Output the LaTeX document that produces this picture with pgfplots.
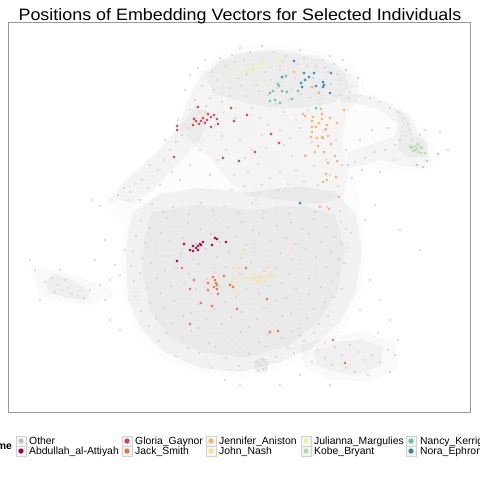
\documentclass[border=0pt]{standalone}
\usepackage{fontspec}
\setmainfont{Liberation Sans}
\usepackage{graphicx}
\usepackage{pgfplots}
\pgfplotsset{compat=1.18}
\definecolor{cOther}{HTML}{BEBEBE}
\definecolor{cAbd}{HTML}{9E0142}
\definecolor{cGlo}{HTML}{D53E4F}
\definecolor{cJac}{HTML}{F46D43}
\definecolor{cJen}{HTML}{FDAE61}
\definecolor{cJoh}{HTML}{FEE08B}
\definecolor{cJul}{HTML}{E6F598}
\definecolor{cKob}{HTML}{ABDDA4}
\definecolor{cNan}{HTML}{66C2A5}
\definecolor{cNor}{HTML}{3288BD}
\pgfplotsset{
  greyplot/.style={only marks, mark=*, mark size=0.8bp, color=black!20, mark options={line width=0.05bp}},
  ptplot/.style={only marks, mark=*, mark size=1.3bp, color=#1, opacity=0.9, mark options={line width=0.1bp}},
  cloud/.style={draw=none, fill=black, fill opacity=#1},
}
\begin{document}
\begin{tikzpicture}
\begin{axis}[
  at={(8bp,-412bp)}, anchor=south west,
  scale only axis, width=462bp, height=390bp,
  xmin=8, xmax=470, ymin=22, ymax=412, y dir=reverse,
  xtick=\empty, ytick=\empty,
  axis line style={draw=black!40, line width=0.8bp},
  clip=true,
]
% density areas of the Other cloud
\addplot[cloud=0.012] coordinates {(105,200)(125,178)(160,148)(180,122)(186,96)(200,70)(220,55)(245,46)(270,44)(300,47)(330,53)(352,64)(364,80)(366,92)(385,98)(405,108)(420,126)(436,142)(440,160)(425,172)(400,170)(370,168)(356,175)(360,210)(366,250)(360,295)(345,330)(318,352)(285,368)(240,378)(198,374)(160,358)(138,336)(124,302)(120,262)(124,225)(112,212)} --cycle;
\addplot[cloud=0.03] coordinates {(178,128)(188,100)(202,74)(220,60)(242,52)(266,49)(292,51)(322,57)(346,68)(358,82)(358,100)(346,114)(342,140)(348,172)(344,196)(320,204)(282,200)(248,196)(228,180)(212,160)(196,146)} --cycle;
\addplot[cloud=0.03] coordinates {(205,75)(222,60)(245,53)(270,51)(295,54)(322,60)(344,72)(350,88)(335,102)(305,108)(270,108)(242,102)(215,94)} --cycle;
\addplot[cloud=0.035] coordinates {(112,198)(126,180)(156,154)(180,126)(196,106)(210,114)(200,140)(176,166)(154,188)(134,204)} --cycle;
\addplot[cloud=0.045] coordinates {(133,212)(160,194)(200,188)(250,192)(300,186)(335,192)(356,214)(362,250)(356,292)(340,322)(312,348)(280,362)(240,372)(200,368)(164,352)(142,330)(128,300)(126,260)(128,232)} --cycle;
\addplot[cloud=0.03] coordinates {(152,212)(200,205)(250,210)(300,205)(335,215)(345,250)(338,290)(320,320)(290,345)(245,358)(200,352)(170,338)(150,310)(142,270)(145,235)} --cycle;
\addplot[cloud=0.03] coordinates {(340,94)(362,94)(384,101)(400,110)(408,118)(412,132)(426,142)(430,158)(418,168)(400,165)(380,160)(360,166)(346,168)(348,152)(372,144)(394,136)(398,124)(380,110)(356,103)(340,102)} --cycle;
\addplot[cloud=0.03] coordinates {(396,110)(410,114)(418,132)(428,142)(428,156)(410,158)(398,150)(400,130)} --cycle;
\addplot[cloud=0.025] coordinates {(30,265)(55,270)(80,278)(105,285)(115,295)(90,305)(60,302)(38,294)} --cycle;
\addplot[cloud=0.04] coordinates {(45,282)(55,274)(72,280)(90,292)(86,300)(66,298)(50,293)} --cycle;
\addplot[cloud=0.025] coordinates {(300,345)(335,335)(365,332)(395,342)(398,368)(370,382)(330,380)(305,368)} --cycle;
\addplot[cloud=0.035] coordinates {(314,352)(335,342)(362,339)(383,348)(380,366)(356,375)(332,372)(316,364)} --cycle;
\addplot[cloud=0.05] coordinates {(254,362)(262,357)(269,362)(267,372)(256,373)} --cycle;
% Other points
\addplot[greyplot] coordinates {
(190,75)(198,68)(205,60)(212,72)(220,58)(226,66)(232,55)(238,78)(244,60)(250,52)(256,85)(262,58)(268,95)(274,52)(280,70)(286,56)(292,90)(298,64)(304,58)(310,98)(316,66)(322,60)(328,72)(334,64)(340,80)(346,70)(352,86)(358,78)(214,90)(222,102)(230,88)(246,96)(252,108)(260,118)(276,104)(284,112)(296,120)(308,110)(320,104)(336,96)(240,48)(262,46)(300,50)(330,56)(185,90)(195,100)(205,112)(215,125)(236,118)(248,128)
(235,62)(247,74)(259,91)(271,80)(283,62)(295,78)(307,66)(319,92)(331,84)(343,60)(217,80)(229,96)(241,86)(253,64)(265,72)(277,88)(289,100)(301,94)(313,78)(325,68)(337,74)(349,98)(202,86)(210,98)(224,112)
(240,140)(252,150)(262,135)(272,160)(284,145)(296,170)(306,155)(318,185)(330,175)(342,165)(248,172)(262,185)(278,190)(290,138)(300,128)(312,142)(324,130)(336,140)(346,150)(256,200)(270,178)(226,150)(234,175)(218,160)(210,175)(200,150)(190,165)(180,180)
(245,158)(258,164)(266,148)(280,172)(292,156)(304,182)(314,166)(326,160)(338,186)(232,190)(222,136)(244,186)(288,184)(268,125)(280,130)
(118,195)(124,188)(130,192)(136,184)(142,180)(148,188)(152,176)(158,170)(164,160)(170,150)(176,142)(182,135)(188,128)(194,118)(200,112)(206,106)(140,200)(128,200)(160,185)(172,172)(112,200)(100,206)(92,200)(150,165)(165,140)(178,120)(190,110)
(152,204)(173,207)(201,203)(224,206)(252,203)(276,208)(301,204)(327,207)
(141,221)(167,218)(188,223)(216,219)(242,222)(263,218)(291,223)(314,219)(341,222)
(136,236)(161,233)(183,238)(211,234)(236,237)(259,233)(286,238)(309,234)(334,237)(351,233)
(133,251)(156,248)(181,253)(206,249)(229,252)(254,248)(281,253)(306,249)(331,252)(347,248)
(131,266)(151,263)(176,268)(199,264)(226,267)(251,263)(276,268)(299,264)(326,267)(344,263)
(134,281)(157,278)(184,283)(207,279)(232,282)(259,278)(282,283)(309,279)(332,282)
(136,296)(161,293)(184,298)(211,294)(236,297)(259,293)(286,298)(309,294)(334,297)
(141,311)(164,308)(191,313)(214,309)(241,312)(264,308)(291,313)(314,309)
(149,326)(172,323)(199,328)(222,324)(249,327)(272,323)(299,328)(319,324)
(159,341)(182,338)(209,343)(232,339)(259,342)(282,338)(304,341)
(176,356)(199,353)(226,358)(249,354)(276,357)(294,353)
(211,368)(239,366)(263,369)
(163,212)(189,214)(213,211)(238,213)(264,211)(289,214)(315,212)(340,211)
(150,228)(176,226)(201,229)(228,227)(253,230)(277,226)(302,229)(326,227)(346,229)
(145,243)(170,241)(196,244)(220,242)(246,245)(270,241)(296,244)(321,242)(342,244)
(142,258)(168,256)(193,259)(217,257)(241,258)(267,256)(292,259)(316,257)(339,259)
(140,273)(165,271)(189,274)(214,272)(240,274)(264,271)(289,274)(316,272)(338,273)
(146,288)(171,286)(196,289)(221,287)(246,289)(270,286)(296,289)(321,287)(342,289)
(150,303)(174,301)(199,304)(225,302)(251,304)(276,301)(299,304)(325,302)
(156,318)(183,316)(206,319)(231,317)(257,319)(282,316)(307,318)(328,316)
(166,333)(191,331)(216,334)(241,332)(268,334)(292,331)(314,333)
(188,348)(215,347)(240,349)(266,347)(288,348)
(35,270)(45,282)(52,278)(58,285)(62,290)(68,288)(72,294)(78,296)(84,298)(55,292)(65,280)(90,290)(100,285)(110,280)(120,275)(40,300)(30,260)(105,300)(115,265)(125,250)(60,270)
(340,95)(350,92)(360,96)(370,98)(380,102)(390,108)(398,112)(404,118)(408,124)(410,130)(406,136)(400,140)(412,140)(395,145)(385,150)(375,152)(365,158)(355,162)(348,165)(420,135)(425,130)(440,132)(448,150)(360,140)(372,130)(388,128)(352,178)(362,170)(380,172)(395,160)
(318,350)(325,343)(335,347)(342,355)(350,345)(358,352)(365,360)(372,355)(380,362)(388,350)(346,368)(332,365)(355,372)(325,358)(312,362)(390,372)(368,375)(300,335)(378,333)(395,355)(398,340)
(256,362)(260,366)(264,360)(258,370)(266,368)
(420,250)(400,230)(380,300)(370,280)(365,220)(375,205)(120,330)(110,320)(105,240)(95,260)(240,385)(280,385)(300,375)(225,380)(360,310)(330,385)(390,320)
};
% selected individuals
\addplot[ptplot=cAbd] coordinates {(184,244)(190,250)(193,251)(193,246)(198,250)(198,246)(200,244)(203,242)(212,245)(215,238)(217,239)(226,242)(177,261)(196,248)(201,245)};
\addplot[ptplot=cGlo] coordinates {(198,107)(194,119)(193,125)(203,118)(208,114)(211,117)(214,115)(217,119)(218,124)(211,127)(205,123)(199,124)(196,121)(201,121)(207,120)(231,108)(234,121)(247,115)(177,126)(177,130)(174,157)(223,158)(239,161)(255,152)(271,134)(279,143)};
\addplot[ptplot=cJac] coordinates {(182,268)(194,280)(190,289)(208,283)(213,277)(215,280)(217,285)(216,283)(217,289)(218,294)(208,290)(224,276)(230,285)(233,287)(201,303)(212,306)(237,309)(190,324)(246,268)(267,299)(270,332)(278,331)(333,340)(345,363)(214,287)};
\addplot[ptplot=cJen] coordinates {(294,72)(312,87)(319,93)(303,114)(305,116)(321,109)(322,114)(344,110)(313,117)(330,118)(312,121)(322,119)(316,127)(319,123)(327,125)(337,123)(312,127)(326,129)(312,132)(311,137)(317,138)(322,137)(323,138)(328,136)(318,146)(331,144)(315,152)(324,152)(305,156)(335,156)(328,163)(337,161)(326,174)(336,177)(327,180)(323,182)(339,197)(320,207)(329,209)};
\addplot[ptplot=cJoh] coordinates {(234,268)(239,268)(234,278)(219,278)(237,283)(238,294)(244,250)(291,248)(267,268)(253,274)(258,276)(262,278)(267,276)(270,274)(272,277)(252,280)(257,281)(260,282)(243,275)(248,278)(255,279)(265,280)};
\addplot[ptplot=cJul] coordinates {(229,69)(242,73)(249,69)(253,72)(253,67)(258,68)(260,64)(263,62)(264,80)(258,83)(269,67)(281,60)(284,75)(246,71)(275,336)};
\addplot[ptplot=cKob] coordinates {(411,148)(413,147)(416,146)(418,144)(420,147)(422,148)(415,150)(418,152)(421,153)(413,151)(417,149)(425,153)(438,154)(427,161)(417,165)(423,167)(410,146)};
\addplot[ptplot=cNan] coordinates {(278,84)(279,86)(282,91)(287,92)(273,91)(270,93)(275,100)(270,101)(280,103)(292,99)(298,91)(286,76)(316,108)};
\addplot[ptplot=cNor] coordinates {(294,61)(304,73)(309,77)(314,73)(305,80)(301,83)(302,87)(316,86)(323,82)(324,85)(323,87)(331,73)(330,93)(282,77)(300,203)};
\end{axis}
% title
\node[anchor=base] at (240bp,-20.5bp) {\scalebox{1.085}[1]{\fontsize{16.5bp}{18bp}\selectfont Positions of Embedding Vectors for Selected Individuals}};
% legend
\node[anchor=base east, inner sep=0pt] at (12bp,-449.5bp) {\fontsize{10.4bp}{12bp}\selectfont\bfseries name};
\foreach \bx/\tx/\ca/\na/\cb/\nb in {16/29/cOther/Other/cAbd/Abdullah\_al-Attiyah, 122/135/cGlo/Gloria\_Gaynor/cJac/Jack\_Smith, 206/219/cJen/Jennifer\_Aniston/cJoh/John\_Nash, 301/314/cJul/Julianna\_Margulies/cKob/Kobe\_Bryant, 406/420/cNan/Nancy\_Kerrigan/cNor/Nora\_Ephron}{
  \draw[draw=black!18, fill=black!4, line width=0.6bp] (\bx bp,-436bp) rectangle ++(10bp,-10bp);
  \draw[draw=black!18, fill=black!4, line width=0.6bp] (\bx bp,-446bp) rectangle ++(10bp,-10bp);
  \fill[\ca] (\bx bp+5bp,-441bp) circle (2.6bp);
  \fill[\cb] (\bx bp+5bp,-451bp) circle (2.6bp);
  \node[anchor=base west, inner sep=0pt] at (\tx bp,-444.5bp) {\fontsize{10.4bp}{12bp}\selectfont \na};
  \node[anchor=base west, inner sep=0pt] at (\tx bp,-454.5bp) {\fontsize{10.4bp}{12bp}\selectfont \nb};
}
\pgfresetboundingbox
\path[use as bounding box] (0,0) rectangle (480bp,-480bp);
\end{tikzpicture}
\end{document}
